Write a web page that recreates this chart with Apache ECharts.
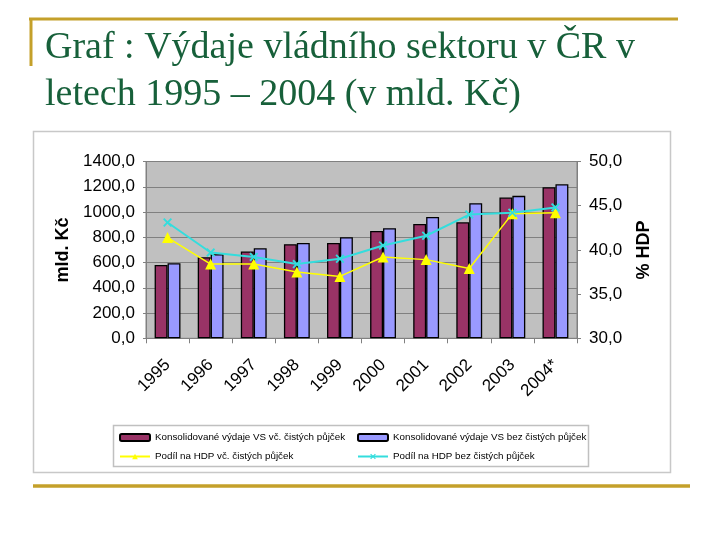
<!DOCTYPE html>
<html>
<head>
<meta charset="utf-8">
<script src="https://cdn.jsdelivr.net/npm/echarts@6/dist/echarts.min.js"></script>
<style>html,body{margin:0;padding:0;background:#fff}#c{width:720px;height:540px}</style>
</head>
<body>
<div id="c"></div>
<script>
const categories = ['1995','1996','1997','1998','1999','2000','2001','2002','2003','2004*'];
const vydajeVc = [581, 642, 687, 745, 755, 850, 906, 919, 1115, 1196];
const vydajeBez = [595, 665, 713, 755, 800, 872, 961, 1070, 1128, 1220];
const podilVc = [41.4, 38.4, 38.4, 37.5, 37.0, 39.2, 38.9, 37.9, 44.1, 44.2];
const podilBez = [43.1, 39.7, 39.2, 38.4, 39.0, 40.5, 41.6, 44.0, 44.2, 44.8];
const names = ['Konsolidované výdaje VS vč. čistých půjček','Konsolidované výdaje VS bez čistých půjček','Podíl na HDP vč. čistých půjček','Podíl na HDP bez čistých půjček'];

const fmt = v => v.toFixed(1).replace('.', ',');
const xPath = 'path://M0,1.5L1.5,0L5,3.5L8.5,0L10,1.5L6.5,5L10,8.5L8.5,10L5,6.5L1.5,10L0,8.5L3.5,5Z';
const gold = '#c4a02a';
const chart = echarts.init(document.getElementById('c'));
chart.setOption({
  animation: false,
  backgroundColor: '#fff',
  title: {
    text: 'Graf : Výdaje vládního sektoru v ČR v\nletech 1995 – 2004 (v mld. Kč)',
    left: 40, top: 20,
    textStyle: { fontFamily: 'Liberation Serif', fontSize: 38, fontWeight: 'normal', color: '#17603a', lineHeight: 47 }
  },
  graphic: [
    { type: 'rect', z: -10, shape: { x: 33.5, y: 131.5, width: 637, height: 341 }, style: { fill: '#fff', stroke: '#c8c8c8', lineWidth: 1.5 } },
    { type: 'rect', z: -5, shape: { x: 113.5, y: 425.5, width: 475, height: 41 }, style: { fill: '#fff', stroke: '#c0c0c0', lineWidth: 1.5 } },
    { type: 'line', shape: { x1: 29, y1: 19, x2: 678, y2: 19 }, style: { stroke: gold, lineWidth: 3 } },
    { type: 'line', shape: { x1: 31, y1: 18, x2: 31, y2: 66 }, style: { stroke: gold, lineWidth: 3 } },
    { type: 'line', shape: { x1: 33, y1: 486, x2: 690, y2: 486 }, style: { stroke: gold, lineWidth: 3.5 } }
  ],
  grid: { left: 146, right: 143, top: 161.5, bottom: 201.7, show: true, backgroundColor: '#c0c0c0', borderColor: '#808080', borderWidth: 1 },
  legend: [
    { orient: 'vertical', left: 114, top: 426.5, itemWidth: 30, itemHeight: 7, itemGap: 7, data: [names[0], names[2]],
      textStyle: { fontFamily: 'Liberation Sans', fontSize: 9.8, color: '#000', lineHeight: 12 } },
    { orient: 'vertical', left: 352, top: 426.5, itemWidth: 30, itemHeight: 7, itemGap: 7, data: [names[1], names[3]],
      textStyle: { fontFamily: 'Liberation Sans', fontSize: 9.8, color: '#000', lineHeight: 12 } }
  ],
  xAxis: {
    type: 'category', data: categories, boundaryGap: true,
    axisLine: { lineStyle: { color: '#808080' } },
    axisTick: { show: true, interval: 0, length: 5, lineStyle: { color: '#808080' } },
    axisLabel: { rotate: 45, margin: 24, fontFamily: 'Liberation Sans', fontSize: 17, color: '#000' }
  },
  yAxis: [
    { type: 'value', min: 0, max: 1400, interval: 200,
      name: 'mld. Kč', nameLocation: 'middle', nameRotate: 90, nameGap: 74,
      nameTextStyle: { fontFamily: 'Liberation Sans', fontSize: 18, fontWeight: 'bold', color: '#000' },
      axisLine: { show: true, lineStyle: { color: '#808080' } },
      axisTick: { show: true, length: 3, lineStyle: { color: '#808080' } },
      splitLine: { show: true, lineStyle: { color: '#808080', width: 1 } },
      axisLabel: { formatter: fmt, margin: 11, fontFamily: 'Liberation Sans', fontSize: 17, color: '#000' } },
    { type: 'value', min: 30, max: 50, interval: 5, position: 'right',
      name: '% HDP', nameLocation: 'middle', nameRotate: 90, nameGap: 58,
      nameTextStyle: { fontFamily: 'Liberation Sans', fontSize: 18, fontWeight: 'bold', color: '#000' },
      axisLine: { show: true, lineStyle: { color: '#808080' } },
      axisTick: { show: true, length: 4, lineStyle: { color: '#808080' } },
      splitLine: { show: false },
      axisLabel: { formatter: fmt, margin: 12, fontFamily: 'Liberation Sans', fontSize: 17, color: '#000' } }
  ],
  series: [
    { name: names[0], type: 'bar', data: vydajeVc, barGap: '0%', barCategoryGap: '40%',
      itemStyle: { color: '#993366', borderColor: '#000', borderWidth: 1.3 } },
    { name: names[1], type: 'bar', data: vydajeBez,
      itemStyle: { color: '#9999ff', borderColor: '#000', borderWidth: 1.3 } },
    { name: names[2], type: 'line', yAxisIndex: 1, data: podilVc, symbol: 'triangle', symbolSize: 11,
      lineStyle: { color: '#ffff00', width: 1.5 }, itemStyle: { color: '#ffff00' } },
    { name: names[3], type: 'line', yAxisIndex: 1, data: podilBez, symbol: xPath, symbolSize: 9,
      lineStyle: { color: '#33dddd', width: 2 }, itemStyle: { color: '#33dddd' } }
  ]
});
</script>
</body>
</html>
